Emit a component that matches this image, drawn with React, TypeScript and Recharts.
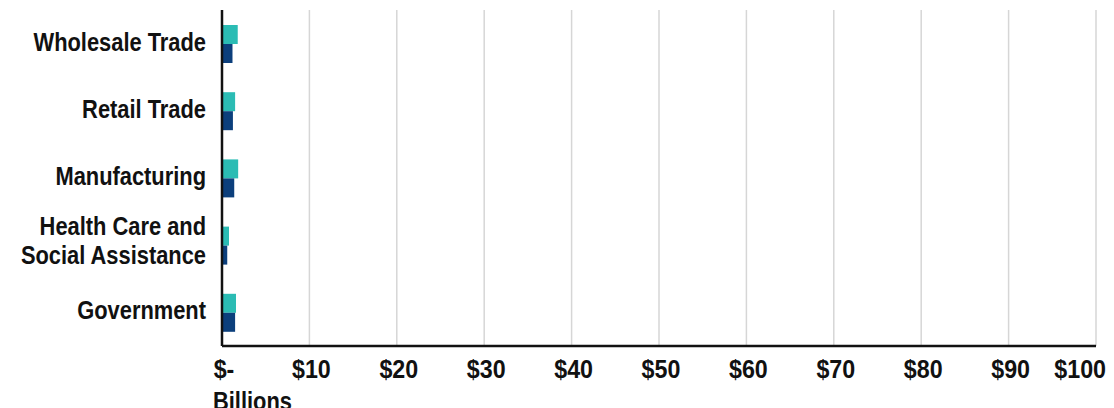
import React from 'react';
import { BarChart, Bar, XAxis, YAxis, CartesianGrid } from 'recharts';

// Industry categories (top to bottom) and the two value series, in $ billions
const categories = [
  'Wholesale Trade',
  'Retail Trade',
  'Manufacturing',
  'Health Care and\nSocial Assistance',
  'Government',
];
const seriesA = [1.8, 1.5, 1.85, 0.8, 1.6];
const seriesB = [1.2, 1.25, 1.4, 0.6, 1.5];
const xTicks = [0, 10, 20, 30, 40, 50, 60, 70, 80, 90, 100];

const data = categories.map((name, i) => ({ name, a: seriesA[i], b: seriesB[i] }));

const FONT = '"Liberation Sans", Arial, sans-serif';
const TEAL = '#2bbcb4';
const NAVY = '#0c3f7c';
// horizontal squeeze that gives the bold face a condensed look
const LABEL_SQUEEZE = 0.875;
const TICK_SQUEEZE = 0.93;

const fmtMoney = (v: number) => (v === 0 ? '$-' : `$${v}`);

const CategoryTick = (props: any) => {
  const { x, y, payload } = props;
  const lines: string[] = String(payload.value).split('\n');
  const base = lines.length === 1 ? [7] : [-10, 19];
  return (
    <g transform={`translate(${x - 8},${y}) scale(${LABEL_SQUEEZE},1)`}>
      {lines.map((ln, i) => (
        <text
          key={i}
          x={0}
          y={base[i]}
          textAnchor="end"
          fill="#111"
          fontFamily={FONT}
          fontWeight="bold"
          fontSize={25}
        >
          {ln}
        </text>
      ))}
    </g>
  );
};

const ValueTick = (props: any) => {
  const { x, y, payload } = props;
  const last = payload.value === xTicks[xTicks.length - 1];
  return (
    <g transform={`translate(${last ? x + 10 : x + 2},${y + 24}) scale(${TICK_SQUEEZE},1)`}>
      <text
        x={0}
        y={0}
        textAnchor={last ? 'end' : 'middle'}
        fill="#111"
        fontFamily={FONT}
        fontWeight="bold"
        fontSize={25}
      >
        {fmtMoney(payload.value)}
      </text>
    </g>
  );
};

const UnitLabel = (props: any) => {
  const vb = props.viewBox || {};
  return (
    <g transform={`translate(${vb.x - 9},${vb.y + 64}) scale(${LABEL_SQUEEZE},1)`}>
      <text x={0} y={0} textAnchor="start" fill="#111" fontFamily={FONT} fontWeight="bold" fontSize={25}>
        Billions
      </text>
    </g>
  );
};

export default function App() {
  return (
    <div style={{ position: 'absolute', left: 0, top: 0, width: 1114, height: 408, background: '#fff' }}>
      <BarChart
        width={1114}
        height={408}
        data={data}
        layout="vertical"
        margin={{ top: 10, right: 18, bottom: 0, left: 0 }}
        barGap={0}
      >
        <CartesianGrid horizontal={false} stroke="#d6d6d6" strokeWidth={1.5} />
        <XAxis
          type="number"
          domain={[0, 100]}
          ticks={xTicks}
          interval={0}
          tickLine={false}
          axisLine={{ stroke: '#111', strokeWidth: 2.5 }}
          tick={<ValueTick />}
          height={62}
          label={<UnitLabel />}
        />
        <YAxis
          type="category"
          dataKey="name"
          width={222}
          tickLine={false}
          axisLine={{ stroke: '#111', strokeWidth: 2.5 }}
          tick={<CategoryTick />}
          interval={0}
        />
        <Bar dataKey="a" fill={TEAL} barSize={19} isAnimationActive={false} />
        <Bar dataKey="b" fill={NAVY} barSize={19} isAnimationActive={false} />
      </BarChart>
    </div>
  );
}
